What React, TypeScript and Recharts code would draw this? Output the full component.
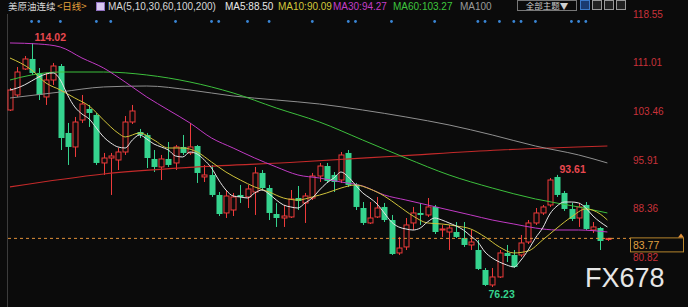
import React from 'react';
import { ComposedChart, Bar, Line, Scatter, XAxis, YAxis, ReferenceLine } from 'recharts';

// daily candles
const opens = [
  103.67, 106.0, 110.03, 111.58, 109.41, 105.69, 108.32, 110.49, 100.11, 97.94,
  102.12, 103.83, 102.9, 95.46, 96.23, 95.92, 97.16, 101.81, 100.26, 99.8,
  96.08, 94.84, 96.08, 95.46, 97.94, 97.01, 98.09, 93.29, 93.6, 90.5,
  87.71, 88.17, 90.5, 90.19, 90.96, 93.91, 91.58, 87.55, 86.93, 87.09,
  90.03, 89.26, 90.03, 93.44, 94.99, 93.6, 92.82, 97.01, 92.05, 88.48,
  86.16, 87.09, 88.64, 86.62, 81.51, 82.44, 86.16, 87.71, 87.4, 88.64,
  85.07, 84.76, 84.76, 83.83, 82.75, 81.97, 78.87, 76.55, 77.79, 81.51,
  81.2, 81.2, 83.21, 86.16, 87.71, 88.95, 93.29, 90.81, 88.33, 86.93,
  88.95, 85.07, 85.38, 83.6,
];
const closes = [
  106.77, 109.56, 111.58, 109.41, 106.0, 108.32, 110.49, 99.33, 97.94, 101.81,
  104.6, 103.21, 95.46, 96.23, 96.54, 97.16, 101.81, 103.52, 99.8, 96.23,
  94.84, 96.08, 95.15, 97.94, 97.01, 97.94, 93.91, 93.6, 90.5, 87.55,
  90.34, 90.19, 90.19, 91.43, 93.91, 91.58, 87.71, 86.93, 87.24, 89.88,
  89.57, 90.34, 93.44, 94.99, 92.67, 92.51, 96.7, 92.05, 88.64, 86.16,
  86.93, 88.48, 86.62, 81.35, 82.28, 85.85, 87.71, 87.4, 88.64, 84.76,
  85.23, 85.38, 83.99, 82.75, 83.21, 79.03, 76.55, 77.79, 81.51, 81.04,
  79.34, 83.06, 86.16, 87.71, 88.64, 92.82, 90.5, 88.33, 86.78, 88.64,
  85.23, 85.54, 83.37, 83.77,
];
const highs = [
  107.08, 110.34, 112.04, 114.02, 110.18, 109.41, 110.96, 110.8, 101.66, 102.59,
  106.0, 104.45, 103.21, 97.01, 97.01, 97.78, 102.74, 104.45, 100.73, 100.11,
  97.47, 96.7, 98.71, 98.25, 99.8, 101.66, 98.25, 95.15, 95.15, 90.96,
  91.27, 90.81, 92.05, 92.05, 94.84, 94.37, 92.05, 89.26, 88.95, 91.27,
  91.89, 90.81, 93.91, 95.46, 95.46, 94.06, 97.16, 97.47, 92.36, 89.41,
  89.41, 90.19, 89.26, 87.4, 83.99, 86.93, 88.64, 89.26, 90.03, 88.95,
  85.85, 85.85, 86.31, 86.31, 85.07, 83.52, 79.18, 79.18, 81.97, 82.75,
  81.97, 84.3, 86.62, 88.48, 88.95, 93.13, 93.61, 91.12, 89.26, 89.26,
  89.41, 86.31, 85.54, 83.83,
];
const lows = [
  103.52, 105.69, 109.87, 109.1, 105.22, 104.45, 107.55, 97.47, 95.15, 96.39,
  101.66, 101.04, 95.15, 93.6, 90.5, 94.37, 96.7, 101.5, 99.33, 94.68,
  94.06, 92.82, 94.84, 94.37, 96.7, 96.7, 92.36, 92.51, 90.19, 87.24,
  86.93, 87.24, 89.26, 88.48, 87.4, 91.27, 86.62, 85.54, 85.54, 86.93,
  88.17, 86.16, 89.72, 92.51, 92.36, 90.96, 92.36, 91.74, 88.17, 85.85,
  86.0, 86.93, 86.31, 81.2, 81.2, 81.97, 85.07, 85.85, 87.09, 84.45,
  83.99, 81.97, 83.83, 82.44, 81.97, 78.87, 76.39, 76.23, 77.63, 80.11,
  79.18, 80.89, 82.9, 85.85, 87.4, 88.64, 90.19, 88.02, 86.47, 85.54,
  85.07, 84.61, 81.97, 83.37,
];

// moving averages: [day, value]
const ma5 = [
  106.77, 107.08, 107.55, 108.17, 108.79, 109.25, 109.41, 108.32, 106.0, 104.14,
  103.05, 102.28, 100.88, 99.49, 98.56, 97.94, 97.78, 99.02, 99.8, 99.17,
  98.4, 97.94, 97.47, 96.54, 96.39, 97.16, 96.85, 95.92, 94.68, 92.82,
  91.27, 90.34, 90.19, 90.03, 90.81, 91.27, 90.65, 89.72, 88.95, 88.64,
  88.48, 89.26, 90.03, 91.27, 92.36, 93.13, 94.06, 93.29, 92.05, 90.81,
  90.03, 89.1, 87.71, 86.31, 85.54, 85.23, 85.07, 85.38, 86.31, 86.93,
  86.62, 86.16, 85.69, 85.07, 84.14, 83.21, 81.66, 80.73, 80.11, 79.65,
  79.34, 80.42, 81.97, 83.83, 85.38, 87.55, 88.79, 89.41, 89.41, 89.26,
  88.48, 87.24, 86.31, 85.54,
].map((v, i) => [i + 1, v]);
const ma10 = [
  [1, 111.73], [4, 109.87], [6, 107.85], [8, 106.77], [10, 105.53], [12, 104.29],
  [14, 102.12], [16, 100.11], [17, 99.49], [19, 100.11], [21, 99.02], [23, 97.78],
  [25, 97.78], [27, 97.16], [29, 95.61], [31, 94.06], [33, 92.82], [35, 91.74],
  [37, 90.96], [39, 90.03], [41, 89.72], [43, 90.19], [45, 90.81], [47, 91.58],
  [49, 92.05], [51, 91.43], [53, 90.34], [55, 88.79], [57, 87.24], [59, 86.16],
  [61, 86.0], [63, 85.69], [65, 85.23], [67, 83.99], [69, 82.44], [71, 81.51],
  [73, 81.82], [75, 83.52], [77, 85.38], [79, 87.09], [81, 88.33], [83, 87.55],
  [84, 86.62],
];
const ma30 = [
  [1, 114.06], [5, 113.9], [8, 113.43], [11, 111.73], [14, 110.18], [17, 108.01],
  [20, 105.69], [23, 103.67], [26, 101.66], [29, 99.33], [32, 97.78], [35, 96.23],
  [38, 94.84], [41, 93.6], [44, 93.13], [47, 92.51], [50, 91.89], [53, 90.5],
  [56, 89.72], [59, 88.95], [62, 88.17], [65, 87.4], [68, 86.62], [71, 86.0],
  [74, 85.38], [77, 85.07], [80, 85.07], [84, 84.76],
];
const ma60 = [
  [1, 108.32], [4, 109.1], [8, 109.56], [14, 109.56], [20, 109.1], [26, 108.01],
  [32, 106.31], [38, 103.98], [44, 101.81], [50, 99.02], [56, 96.23], [62, 93.6],
  [68, 91.58], [74, 89.88], [80, 88.64], [84, 87.71],
];
const ma100 = [
  [1, 105.53], [8, 106.46], [14, 107.24], [20, 107.39], [26, 106.77], [32, 105.84],
  [38, 105.22], [44, 104.6], [50, 103.67], [56, 102.59], [62, 101.35], [68, 99.8],
  [74, 98.09], [80, 96.7], [84, 95.46],
];
const ma200 = [
  [1, 91.74], [14, 93.75], [27, 94.84], [41, 95.61], [55, 96.54], [69, 97.47], [84, 98.09],
];

const eventDays = [4, 5, 8, 13, 15, 24, 29, 30, 34, 37, 43, 48, 49, 54, 60, 66, 67, 69, 71, 72, 74, 79, 80, 81];
const EVENT_LEVEL = 117.39;

const priceTicks = [118.55, 111.01, 103.46, 95.91, 88.36, 80.82];
const lastPrice = 83.77;
const extremes = [
  { day: 4, text: '114.02', at: 'high' },
  { day: 77, text: '93.61', at: 'high' },
  { day: 68, text: '76.23', at: 'low' },
];

const BG = '#0b0b0b';
const UP = '#ee3b3b';
const DOWN = '#35d38e';

const pick = (arr: number[][], day: number) => {
  const hit = arr.find((p) => p[0] === day);
  return hit ? hit[1] : null;
};

const data = opens.map((o, i) => {
  const day = i + 1;
  return {
    day,
    open: o,
    close: closes[i],
    high: highs[i],
    low: lows[i],
    range: [lows[i], highs[i]],
    ma5: pick(ma5, day),
    ma10: pick(ma10, day),
    ma30: pick(ma30, day),
    ma60: pick(ma60, day),
    ma100: pick(ma100, day),
    ma200: pick(ma200, day),
    evt: eventDays.includes(day) ? EVENT_LEVEL : null,
  };
});

const Candle = (props: any) => {
  const { x, y, width, height, payload } = props;
  const { open, close, high, low, day } = payload;
  const up = close >= open;
  const color = up ? UP : DOWN;
  const cx = Math.round(x + width / 2) + 0.5;
  const k = height / (high - low || 1);
  const yOf = (v: number) => y + (high - v) * k;
  const top = yOf(Math.max(open, close));
  const bot = yOf(Math.min(open, close));
  const bodyH = Math.max(bot - top, 1);
  const mark = extremes.find((m) => m.day === day);
  return (
    <g>
      {up ? (
        <>
          <line x1={cx} x2={cx} y1={y} y2={top} stroke={color} strokeWidth={1} />
          <line x1={cx} x2={cx} y1={top + bodyH} y2={y + height} stroke={color} strokeWidth={1} />
          <rect x={cx - 2.5} y={top} width={5} height={bodyH} fill={BG} stroke={color} strokeWidth={1} />
        </>
      ) : (
        <>
          <line x1={cx} x2={cx} y1={y} y2={y + height} stroke={color} strokeWidth={1} />
          <rect x={cx - 3} y={top} width={6} height={bodyH} fill={color} />
        </>
      )}
      {mark && mark.at === 'high' && (
        <text x={cx + 2} y={y - 2} fill="#e8484f" fontSize={10.5} fontWeight={700} fontFamily="Liberation Sans, Arial, sans-serif">
          {mark.text}
        </text>
      )}
      {mark && mark.at === 'low' && (
        <text x={cx - 4} y={y + height + 11} fill={DOWN} fontSize={10.5} fontWeight={700} fontFamily="Liberation Sans, Arial, sans-serif">
          {mark.text}
        </text>
      )}
    </g>
  );
};

const EventDot = (props: any) => {
  if (props.payload.evt == null) return <g />;
  return <circle cx={props.cx} cy={props.cy} r={1.4} fill="#3a86d6" />;
};

const PriceTick = (props: any) => {
  const { x, y, payload } = props;
  return (
    <text x={x} y={y + 3.5} fill="#c8323a" fontSize={10} fontFamily="Liberation Sans, Arial, sans-serif">
      {payload.value.toFixed(2)}
    </text>
  );
};

const LastPriceTag = (props: any) => {
  const { viewBox } = props;
  const y = viewBox.y;
  const xr = viewBox.x + viewBox.width;
  return (
    <g>
      <line x1={xr} x2={630} y1={y} y2={y} stroke="#e0903a" strokeDasharray="3 3" />
      <rect x={630.5} y={y - 0.5} width={53} height={14} fill={BG} stroke="#b8862e" />
      <text x={633} y={y + 10.5} fill="#e0a040" fontSize={10.5} fontFamily="Liberation Sans, Arial, sans-serif">
        {lastPrice.toFixed(2)}
      </text>
      <path d={`M678,${y - 1} L681,${y - 5} L684,${y - 1} Z`} fill="#e0903a" />
    </g>
  );
};

const hdr: React.CSSProperties = {
  position: 'absolute',
  left: 0,
  top: 0,
  height: 14,
  width: 688,
  fontFamily: 'Liberation Sans, Arial, "Noto Sans CJK SC", sans-serif',
  fontSize: 10,
  lineHeight: '13px',
  whiteSpace: 'nowrap',
  color: '#d8d8d8',
};

const cjk = '"Noto Sans CJK SC", sans-serif';

export default function App() {
  return (
    <div style={{ position: 'absolute', left: 0, top: 0, width: 688, height: 307, background: BG, overflow: 'hidden' }}>
      <div style={{ position: 'absolute', left: 7, top: 14, width: 1, height: 293, background: '#3c3c3c' }} />
      <ComposedChart
        width={688}
        height={307}
        data={data}
        margin={{ top: 0, right: 0, bottom: 0, left: 6.4 }}
        style={{ position: 'absolute', left: 0, top: 0 }}
      >
        <XAxis dataKey="day" hide />
        <YAxis
          orientation="right"
          width={77}
          domain={[73.135, 120.72]}
          allowDataOverflow
          ticks={priceTicks}
          interval={0}
          axisLine={false}
          tickLine={false}
          tickSize={0}
          tickMargin={22}
          tick={<PriceTick />}
        />
        <ReferenceLine y={lastPrice} stroke="#e0903a" strokeDasharray="3 3" label={<LastPriceTag />} />
        <Line dataKey="ma200" stroke="#c42a2a" strokeWidth={1.2} dot={false} connectNulls type="monotone" isAnimationActive={false} />
        <Line dataKey="ma100" stroke="#8f8f8f" strokeWidth={1} dot={false} connectNulls type="monotone" isAnimationActive={false} />
        <Line dataKey="ma60" stroke="#3cbf3c" strokeWidth={1} dot={false} connectNulls type="monotone" isAnimationActive={false} />
        <Line dataKey="ma30" stroke="#c13ac4" strokeWidth={1} dot={false} connectNulls type="monotone" isAnimationActive={false} />
        <Bar dataKey="range" shape={<Candle />} isAnimationActive={false} />
        <Line dataKey="ma10" stroke="#cfc23a" strokeWidth={1} dot={false} connectNulls type="monotone" isAnimationActive={false} />
        <Line dataKey="ma5" stroke="#e6e6e6" strokeWidth={1} dot={false} connectNulls type="monotone" isAnimationActive={false} />
        <Scatter dataKey="evt" shape={<EventDot />} isAnimationActive={false} />
      </ComposedChart>
      <div style={hdr}>
        <span style={{ position: 'absolute', left: 8, top: 0, fontFamily: cjk, fontSize: 9.5 }}>美原油连续</span>
        <span style={{ position: 'absolute', left: 57, top: 0, color: '#e5a23c', fontFamily: cjk, fontSize: 9.5 }}>&lt;日线&gt;</span>
        <span style={{ position: 'absolute', left: 96, top: 2, width: 9, height: 9, background: '#d8c8f0', border: '1px solid #9070c0', boxSizing: 'border-box' }} />
        <span style={{ position: 'absolute', left: 108, top: 0 }}>MA(5,10,30,60,100,200)</span>
        <span style={{ position: 'absolute', left: 225, top: 0, color: '#e8e8e8' }}>MA5:88.50</span>
        <span style={{ position: 'absolute', left: 278, top: 0, color: '#d3c73a' }}>MA10:90.09</span>
        <span style={{ position: 'absolute', left: 333, top: 0, color: '#c43ec8' }}>MA30:94.27</span>
        <span style={{ position: 'absolute', left: 393, top: 0, color: '#3ec63e' }}>MA60:103.27</span>
        <span style={{ position: 'absolute', left: 460, top: 0, color: '#9a9a9a' }}>MA100</span>
        <span
          style={{
            position: 'absolute', left: 517, top: 0, width: 60, height: 11, border: '1px solid #777', boxSizing: 'border-box',
            fontFamily: cjk, fontSize: 8.5, lineHeight: '9px', color: '#cfcfcf', textAlign: 'center', overflow: 'visible',
          }}
        >
          全部主题▼
        </span>
        {[0, 1, 2, 3].map((i) => (
          <span
            key={i}
            style={{
              position: 'absolute', left: 580 + i * 12, top: 0, width: 10, height: 10, border: `1px solid ${i === 0 ? '#3a78c8' : '#999'}`,
              boxSizing: 'border-box', background: i === 0 ? '#1a3a70' : '#222',
            }}
          />
        ))}
      </div>
      <div
        style={{
          position: 'absolute', left: 585, top: 263, fontFamily: 'Liberation Sans, Arial, sans-serif', fontSize: 27,
          lineHeight: '30px', color: '#e6e6e6',
        }}
      >
        FX678
      </div>
    </div>
  );
}
